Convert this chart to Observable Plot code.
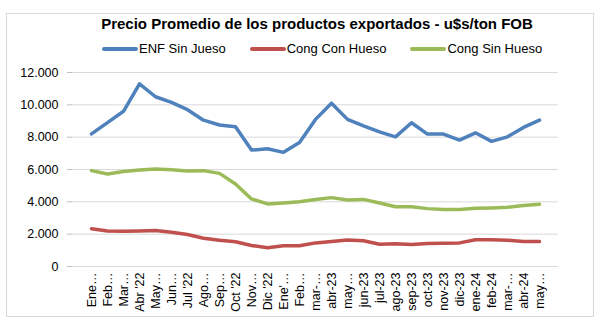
<!DOCTYPE html>
<html>
<head>
<meta charset="utf-8">
<script src="https://cdn.jsdelivr.net/npm/d3@7"></script>
<script src="https://cdn.jsdelivr.net/npm/@observablehq/plot@0.6"></script>
<style>
  html, body { margin: 0; padding: 0; background: #fff; }
  body { width: 601px; height: 325px; position: relative; overflow: hidden; font-family: "Liberation Sans", Arial, sans-serif; }
  #frame { position: absolute; left: 6px; top: 13px; width: 588px; height: 304px; border: 1px solid #d9d9d9; box-sizing: border-box; }
  #title { position: absolute; left: 0; width: 634px; top: 15px; text-align: center; font-weight: bold; font-size: 15px; color: #000; }
  #legend { position: absolute; left: 102px; top: 41px; font-size: 13px; color: #000; display: flex; align-items: center; }
  .item { display: flex; align-items: center; margin-right: 24px; }
  .sw { display: inline-block; width: 36px; height: 4px; border-radius: 2px; margin-right: 1px; }
  #chart { position: absolute; left: 0; top: 60px; }
</style>
</head>
<body>
<div id="frame"></div>
<div id="title">Precio Promedio de los productos exportados - u$s/ton FOB</div>
<div id="legend"></div>
<div id="chart"></div>
<script>
const labels = ["Ene…","Feb…","Mar…","Abr '22","May…","Jun…","Jul '22","Ago…","Sep…","Oct '22","Nov…","Dic '22","Ene'…","Feb…","mar-…","abr-23","may…","jun-23","jul-23","ago-23","sep-23","oct-23","nov-23","dic-23","ene-24","feb-24","mar-…","abr-24","may…"];
const enfSinHueso = [8200,8900,9600,11300,10500,10150,9700,9050,8750,8650,7200,7280,7060,7670,9100,10100,9100,8700,8330,8020,8890,8190,8190,7820,8270,7740,8020,8600,9050];
const congConHueso = [2330,2200,2180,2200,2220,2120,1980,1750,1620,1530,1300,1160,1280,1280,1460,1540,1640,1590,1380,1400,1360,1420,1440,1460,1650,1650,1620,1540,1540];
const congSinHueso = [5930,5720,5880,5970,6030,5990,5910,5930,5760,5100,4180,3870,3930,4010,4150,4260,4120,4150,3930,3700,3700,3580,3530,3520,3600,3620,3660,3770,3850];
const seriesNames = ["ENF Sin Jueso","Cong Con Hueso","Cong Sin Hueso"];
const seriesColors = ["#4F81BD","#C0504D","#9BBB59"];
const yTicks = [0,2000,4000,6000,8000,10000,12000];

const seriesValues = [enfSinHueso, congConHueso, congSinHueso];
const data = [];
seriesValues.forEach((vals, s) => vals.forEach((v, i) => data.push({i, v, s: seriesNames[s]})));

const leg = document.getElementById("legend");
seriesNames.forEach((n, k) => {
  const it = document.createElement("div");
  it.className = "item";
  it.innerHTML = `<span class="sw" style="background:${seriesColors[k]}"></span><span>${n}</span>`;
  leg.appendChild(it);
});

const fmt = d => d === 0 ? "0" : d3.format(",")(d).replace(/,/g, ".");

const chart = Plot.plot({
  width: 601,
  height: 265,
  marginTop: 12,
  marginBottom: 59,
  marginLeft: 72,
  marginRight: 43,
  style: { fontFamily: "'Liberation Sans', Arial, sans-serif", fontSize: "12px", color: "#000", background: "transparent" },
  x: { type: "point", domain: d3.range(labels.length), padding: 0.5, label: null },
  y: { domain: [0, 12000], label: null },
  color: { domain: seriesNames, range: seriesColors },
  marks: [
    Plot.ruleY(yTicks, { stroke: "#d9d9d9", strokeWidth: 1 }),
    Plot.axisY({ ticks: yTicks, tickFormat: fmt, tickSize: 5, tickPadding: 9, stroke: "#bfbfbf", fill: "#000", fontSize: 12.5, label: null }),
    Plot.axisX({ tickFormat: i => labels[i], tickRotate: -90, tickSize: 0, tickPadding: 6, fill: "#000", fontSize: 12.5, label: null }),
    Plot.line(data, { x: "i", y: "v", z: "s", stroke: "s", strokeWidth: 3.5, strokeLinejoin: "round", strokeLinecap: "round" })
  ]
});
document.getElementById("chart").appendChild(chart);
</script>
</body>
</html>
